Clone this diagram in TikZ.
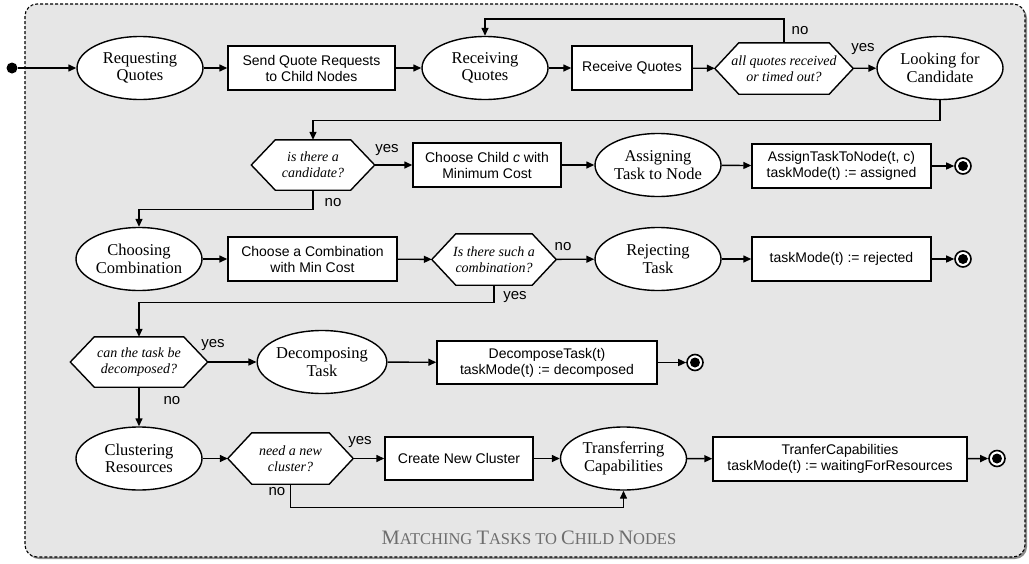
\documentclass[tikz,border=0pt]{standalone}
\usepackage{fontspec}
\setmainfont{Liberation Serif}
\setsansfont{Liberation Sans}
\usetikzlibrary{shapes.geometric,arrows.meta,calc}
\pgfdeclarelayer{bg}
\pgfdeclarelayer{mid}
\pgfsetlayers{bg,mid,main}

\definecolor{framegray}{HTML}{E6E6E6}
\definecolor{shadowgray}{HTML}{8C8C8C}
\definecolor{titlegray}{HTML}{6E6E6E}

\tikzset{
  state/.style={ellipse, draw, fill=white, line width=1.4pt,
    minimum width=126pt, minimum height=63pt, inner sep=0pt, align=center,
    font=\fontsize{16.5}{17.5}\selectfont},
  action/.style={rectangle, draw, fill=white, line width=1.4pt,
    inner sep=0pt, align=center, font=\sffamily\fontsize{14}{16}\selectfont},
  choice/.style={rectangle, inner sep=0pt, align=center,
    font=\itshape\fontsize{14}{16}\selectfont},
  hexline/.style={line width=1.4pt, fill=white, line join=miter},
  flow/.style={line width=1.4pt, -{Triangle[length=8pt,width=7pt]}},
  lbl/.style={font=\sffamily\fontsize{15}{15}\selectfont, inner sep=0pt},
  final/.style={circle, draw, fill=white, line width=1.6pt, minimum size=16pt,
    inner sep=0pt,
    path picture={\fill[black] (path picture bounding box.center) circle (5pt);}},
  initial/.style={circle, fill, minimum size=11pt, inner sep=0pt},
}

% decision node: name, centre, width, height, text
\newcommand\choicenode[5]{%
  \node[choice, minimum width=#3, minimum height=#4] (#1) at #2 {#5};
  \begin{pgfonlayer}{mid}
    \draw[hexline] (#1.west) -- ($(#1.north west)+(24,0)$)
      -- ($(#1.north east)+(-24,0)$) -- (#1.east)
      -- ($(#1.south east)+(-24,0)$) -- ($(#1.south west)+(24,0)$) -- cycle;
  \end{pgfonlayer}}

% small caps by hand: large initial, smaller rest
\newcommand\scword[2]{{\fontsize{20.5}{20}\selectfont #1}#2}

\begin{document}
\begin{tikzpicture}[x=1pt, y=-1pt]
\useasboundingbox (0,0) rectangle (1029,563);

% frame
\begin{pgfonlayer}{bg}
  \fill[shadowgray, rounded corners=12pt] (27,6) rectangle (1027,559);
  \draw[fill=framegray, dash pattern=on 3pt off 2pt, line width=1.1pt,
    rounded corners=12pt] (25,4) rectangle (1025,557);
\end{pgfonlayer}

\node[text=titlegray, inner sep=0pt, font=\fontsize{16.5}{17}\selectfont]
  (title) at (529,538)
  {\scword{M}{ATCHING} \scword{T}{ASKS} TO \scword{C}{HILD} \scword{N}{ODES}};

% row 1
\node[initial] (start) at (12,68) {};
\node[state] (rq) at (140,68) {Requesting\\Quotes};
\node[action, minimum width=167pt, minimum height=44pt] (send) at (311.5,68)
  {Send Quote Requests\\to Child Nodes};
\node[state] (recvq) at (485,68) {Receiving\\Quotes};
\node[action, minimum width=120pt, minimum height=44pt] (recvbox) at (632,68)
  {Receive Quotes};
\choicenode{h1}{(784,68.5)}{138pt}{51pt}{all quotes received\\or timed out?}
\node[state] (look) at (940,68) {Looking for\\Candidate};

% row 2
\choicenode{h2}{(313,165)}{123pt}{50pt}{is there a\\candidate?}
\node[action, minimum width=148pt, minimum height=44pt] (child) at (487,165)
  {Choose Child \textit{c} with\\Minimum Cost};
\node[state] (assign) at (658,165) {Assigning\\Task to Node};
\node[action, minimum width=179pt, minimum height=44pt] (assignbox) at (841.5,166)
  {AssignTaskToNode(t, c)\\taskMode(t) := assigned};
\node[final] (end1) at (963,166) {};

% row 3
\node[state] (cc) at (139,259) {Choosing\\Combination};
\node[action, minimum width=169pt, minimum height=44pt] (combo) at (312.5,259)
  {Choose a Combination\\with Min Cost};
\choicenode{h3}{(494,259.5)}{124pt}{51pt}{Is there such a\\combination?}
\node[state] (reject) at (658,259) {Rejecting\\Task};
\node[action, minimum width=179pt, minimum height=44pt] (rejbox) at (841.5,259)
  {taskMode(t) := rejected};
\node[final] (end2) at (963,259) {};

% row 4
\choicenode{h4}{(139,362)}{137pt}{50pt}{can the task be\\decomposed?}
\node[state] (decomp) at (322,362) {Decomposing\\Task};
\node[action, minimum width=220pt, minimum height=43pt] (decbox) at (547,362.5)
  {DecomposeTask(t)\\taskMode(t) := decomposed};
\node[final] (end3) at (695,362.5) {};

% row 5
\node[state] (clus) at (139,458.5) {Clustering\\Resources};
\choicenode{h5}{(290.5,458.5)}{125pt}{51pt}{need a new\\cluster?}
\node[action, minimum width=148pt, minimum height=43pt] (create) at (459,458.5)
  {Create New Cluster};
\node[state] (trans) at (623.5,458.5) {Transferring\\Capabilities};
\node[action, minimum width=254pt, minimum height=44pt] (transbox) at (840,459)
  {TranferCapabilities\\taskMode(t) := waitingForResources};
\node[final] (end4) at (997,458.5) {};

% connectors
\draw[flow] (start) -- (rq);
\draw[flow] (rq) -- (send);
\draw[flow] (send) -- (recvq);
\draw[flow] (recvq) -- (recvbox);
\draw[flow] (recvbox) -- (h1);
\draw[flow] (h1) -- (look);
\draw[flow] (h1.north) -- ++(0,-24) -| (recvq.north);
\draw[flow] (look.south) -- ++(0,20.5) -| (h2.north);

\draw[flow] (h2) -- (child);
\draw[flow] (child) -- (assign);
\draw[flow] (assign) -- (assignbox);
\draw[flow] (assignbox) -- (end1);
\draw[flow] (h2.south) -- ++(0,19) -| (cc.north);

\draw[flow] (cc) -- (combo);
\draw[flow] (combo) -- (h3);
\draw[flow] (h3) -- (reject);
\draw[flow] (reject) -- (rejbox);
\draw[flow] (rejbox) -- (end2);
\draw[flow] (h3.south) -- ++(0,17) -| (h4.north);

\draw[flow] (h4) -- (decomp);
\draw[flow] (decomp) -- (decbox);
\draw[flow] (decbox) -- (end3);
\draw[flow] (h4.south) -- (clus.north);

\draw[flow] (clus) -- (h5);
\draw[flow] (h5) -- (create);
\draw[flow] (create) -- (trans);
\draw[flow] (trans) -- (transbox);
\draw[flow] (transbox) -- (end4);
\draw[flow] (h5.south) -- ++(0,23) -| (trans.south);

% branch labels
\node[lbl] (l1no)  at (800,31)  {no};
\node[lbl] (l1yes) at (863,49)  {yes};
\node[lbl] (l2yes) at (387,150) {yes};
\node[lbl] (l2no)  at (333,203) {no};
\node[lbl] (l3no)  at (563,247) {no};
\node[lbl] (l3yes) at (515,297) {yes};
\node[lbl] (l4yes) at (213,345) {yes};
\node[lbl] (l4no)  at (172,401) {no};
\node[lbl] (l5yes) at (360,442) {yes};
\node[lbl] (l5no)  at (277,492) {no};
\end{tikzpicture}
\end{document}
